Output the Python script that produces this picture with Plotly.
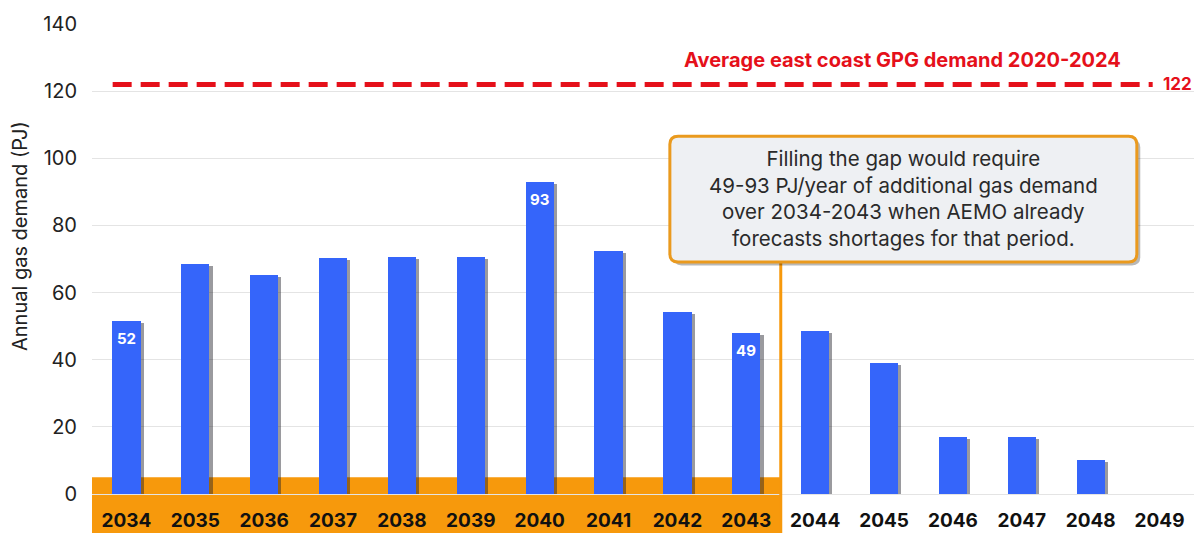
import plotly.graph_objects as go

years = ["2034", "2035", "2036", "2037", "2038", "2039", "2040", "2041",
         "2042", "2043", "2044", "2045", "2046", "2047", "2048", "2049"]
demand = [51.5, 68.5, 65.2, 70.3, 70.6, 70.6, 92.9, 72.4,
          54.2, 48.0, 48.6, 38.9, 16.9, 16.9, 10.1, 0]
bar_labels = ["52", "", "", "", "", "", "93", "", "", "49", "", "", "", "", "", ""]
avg_gpg = 122
gap_floor = 5
gap_last_index = 9
y_range = [0, 140]
y_ticks = [0, 20, 40, 60, 80, 100, 120, 140]

xs = list(range(len(years)))
BLUE = "#3565FA"
ORANGE = "#F7990C"
RED = "#E5101A"
FONT = "Inter"

fig = go.Figure()

# subtle shadow under bars
fig.add_trace(go.Bar(
    x=xs, y=[max(v - 0.6, 0) for v in demand], width=0.41, offset=-0.205 + 0.045,
    marker=dict(color="rgba(30,30,40,0.45)", line=dict(width=0)),
    hoverinfo="skip", showlegend=False,
))
fig.add_trace(go.Bar(
    x=xs, y=demand, width=0.41, offset=-0.205,
    marker=dict(color=BLUE, line=dict(width=0)),
    showlegend=False,
))

ytop = y_range[1]

# callout box geometry (data coords)
bx0, bx1, by0, by1 = 7.89, 14.67, 69.1, 106.6
r_x, r_y = 0.12, 2.4


def rounded(x0, x1, y0, y1, rx, ry):
    return (f"M {x0+rx},{y0} L {x1-rx},{y0} Q {x1},{y0} {x1},{y0+ry} "
            f"L {x1},{y1-ry} Q {x1},{y1} {x1-rx},{y1} L {x0+rx},{y1} "
            f"Q {x0},{y1} {x0},{y1-ry} L {x0},{y0+ry} Q {x0},{y0} {x0+rx},{y0} Z")


shapes = [
    # orange highlighted period (extends down over the tick labels)
    dict(type="rect", xref="x", yref="paper", x0=-0.56, x1=gap_last_index + 0.5,
         y0=-0.09, y1=gap_floor / ytop, fillcolor=ORANGE, line=dict(width=0),
         layer="below"),
    # vertical orange divider to the callout box
    dict(type="line", xref="x", yref="paper", x0=gap_last_index + 0.5,
         x1=gap_last_index + 0.5, y0=-0.09, y1=by0 / ytop,
         line=dict(color=ORANGE, width=3), layer="above"),
    # average line
    dict(type="line", xref="x", yref="y", x0=-0.2, x1=14.9, y0=avg_gpg, y1=avg_gpg,
         line=dict(color=RED, width=5, dash="19px,9px"), layer="above"),
    # callout shadow
    dict(type="path", xref="x", yref="y",
         path=rounded(bx0 + 0.05, bx1 + 0.05, by0 - 1.0, by1 - 1.0, r_x, r_y),
         fillcolor="rgba(0,0,0,0.28)", line=dict(width=0), layer="above"),
    # callout box
    dict(type="path", xref="x", yref="y",
         path=rounded(bx0, bx1, by0, by1, r_x, r_y),
         fillcolor="#EEF0F3", line=dict(color="#EA9A1E", width=3), layer="above"),
]

annotations = [
    dict(x=11.27, y=129.4, xref="x", yref="y", showarrow=False,
         text="Average east coast GPG demand 2020-2024",
         font=dict(family=FONT, size=20, color=RED, weight="bold")),
    dict(x=1.0, y=avg_gpg, xref="paper", yref="y", showarrow=False, xanchor="right",
         text=str(avg_gpg), font=dict(family=FONT, size=17, color=RED, weight="bold")),
    dict(x=(bx0 + bx1) / 2, y=(by0 + by1) / 2 + 0.3, xref="x", yref="y", showarrow=False,
         text="Filling the gap would require<br>49-93 PJ/year of additional gas demand"
              "<br>over 2034-2043 when AEMO already<br>forecasts shortages for that period.",
         font=dict(family=FONT, size=20.5, color="#2a2a2a"),
         align="center"),
    dict(x=-0.078, y=0.549, xref="paper", yref="paper", showarrow=False,
         text="Annual gas demand (PJ)", textangle=-90,
         font=dict(family=FONT, size=20, color="#222")),
]

for xi, (v, lab) in enumerate(zip(demand, bar_labels)):
    if lab:
        annotations.append(dict(
            x=xi, y=v, xref="x", yref="y", yanchor="top", yshift=-6,
            showarrow=False, text=lab,
            font=dict(family=FONT, size=15, color="white", weight="bold")))

fig.update_layout(
    width=1194, height=533,
    margin=dict(l=92, r=0, t=24, b=39),
    paper_bgcolor="white", plot_bgcolor="white",
    barmode="overlay", bargap=0,
    shapes=shapes, annotations=annotations,
    showlegend=False,
    font=dict(family=FONT),
)
fig.update_xaxes(
    range=[-0.5, len(years) - 0.5], tickmode="array", tickvals=xs, ticktext=years,
    showgrid=False, zeroline=False, showline=False, ticks="",
    ticklabelstandoff=13,
    tickfont=dict(family=FONT, size=19, color="#111", weight="bold"),
)
fig.update_yaxes(
    range=y_range, tickmode="array", tickvals=y_ticks,
    showgrid=True, gridcolor="#e4e4e4", gridwidth=1,
    zeroline=True, zerolinecolor="#e4e4e4", zerolinewidth=1,
    showline=False, ticks="", ticklabelstandoff=14,
    tickfont=dict(family=FONT, size=20, color="#222"),
)

fig.write_html("out.html")
